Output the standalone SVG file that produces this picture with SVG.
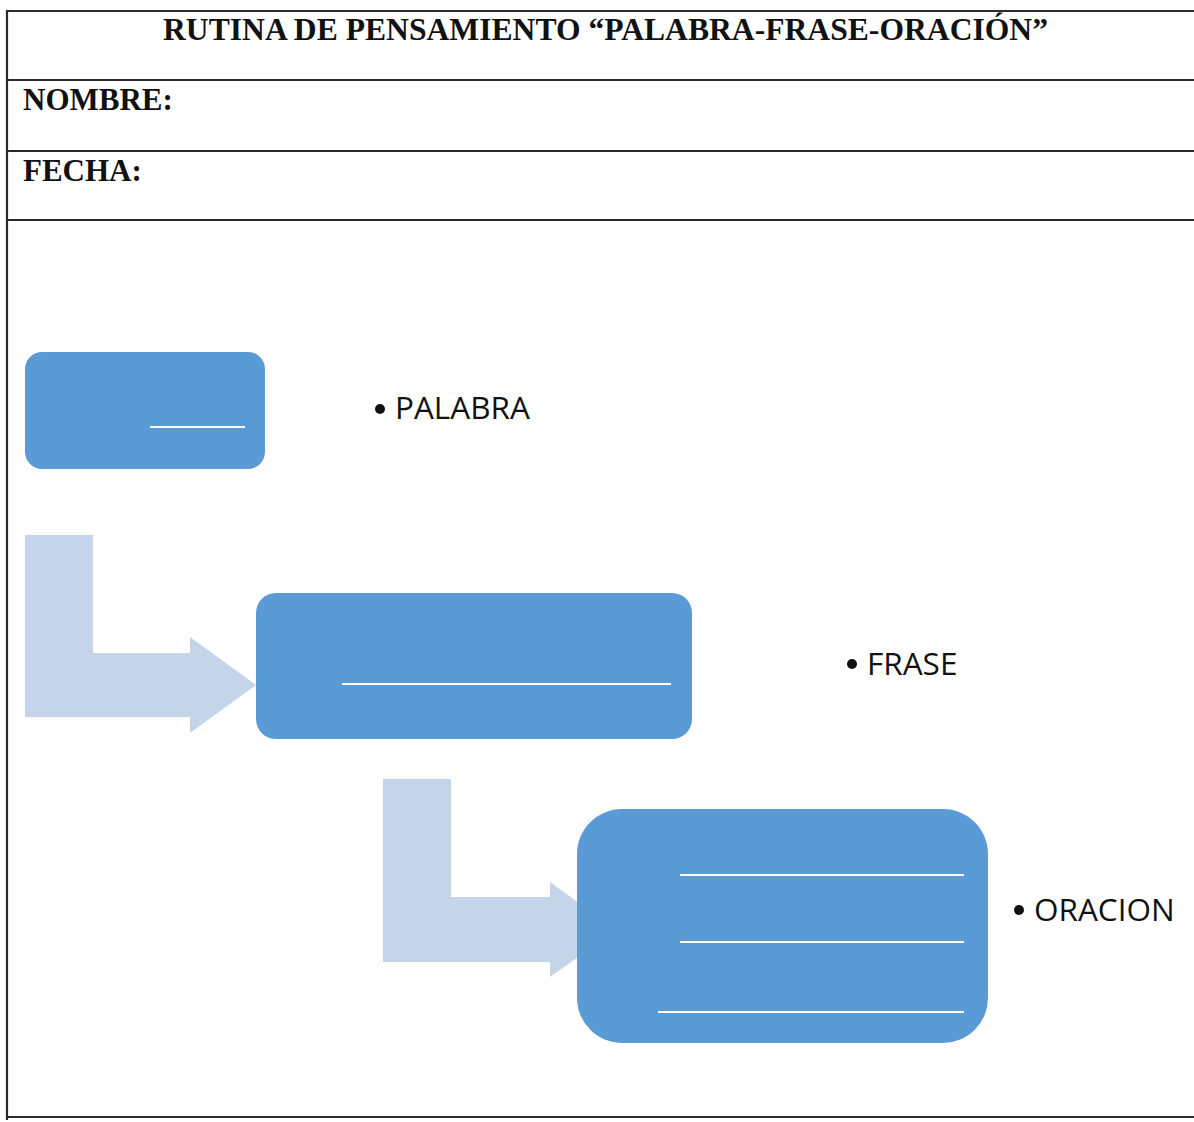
<svg xmlns="http://www.w3.org/2000/svg" width="1194" height="1122" viewBox="0 0 1194 1122">
<style>
.rule{stroke:#2b2b2b;stroke-width:2.2;fill:none}
.hdr{font-family:"Liberation Serif","Times New Roman",serif;font-weight:bold;font-size:31px;fill:#111}
.box{fill:#5B9BD5}
.wl{stroke:#ffffff;stroke-width:2;fill:none}
.arr{fill:#C4D5EA}
.lbl{font-family:"Open Sans","Liberation Sans",sans-serif;font-size:31.5px;fill:#111}
.dot{fill:#111}
</style>
<rect x="0" y="0" width="1194" height="1122" fill="#ffffff"/>
<g id="table">
<line class="rule" x1="7" y1="11" x2="7" y2="1120"/>
<line class="rule" x1="6" y1="11" x2="1194" y2="11"/>
<line class="rule" x1="6" y1="80" x2="1194" y2="80"/>
<line class="rule" x1="6" y1="151" x2="1194" y2="151"/>
<line class="rule" x1="6" y1="220" x2="1194" y2="220"/>
<line class="rule" x1="6" y1="1117" x2="1194" y2="1117"/>
<text class="hdr" x="163" y="40" font-size="32" textLength="885" lengthAdjust="spacingAndGlyphs">RUTINA DE PENSAMIENTO “PALABRA-FRASE-ORACIÓN”</text>
<text class="hdr" x="23" y="110">NOMBRE:</text>
<text class="hdr" x="23" y="181">FECHA:</text>
</g>
<g id="connectors">
<path class="arr" d="M25,535 H93 V653 H190 V637 L256,685 L190,733 V717 H25 Z"/>
<path class="arr" d="M383,779 H451 V897 H550 V882 L616,930 L550,977 V962 H383 Z"/>
</g>
<g id="palabra">
<rect class="box" x="25" y="352" width="240" height="117" rx="17"/>
<line class="wl" x1="150" y1="427" x2="245" y2="427"/>
<circle class="dot" cx="380" cy="409" r="5"/>
<text class="lbl" x="395" y="419">PALABRA</text>
</g>
<g id="frase">
<rect class="box" x="256" y="593" width="436" height="146" rx="20"/>
<line class="wl" x1="342" y1="684" x2="671" y2="684"/>
<circle class="dot" cx="852" cy="664" r="5"/>
<text class="lbl" x="867" y="675">FRASE</text>
</g>
<g id="oracion">
<rect class="box" x="577" y="809" width="411" height="234" rx="45"/>
<line class="wl" x1="680" y1="875" x2="964" y2="875"/>
<line class="wl" x1="680" y1="942" x2="964" y2="942"/>
<line class="wl" x1="658" y1="1012" x2="964" y2="1012"/>
<circle class="dot" cx="1019" cy="910" r="5"/>
<text class="lbl" x="1034" y="921">ORACION</text>
</g>
</svg>
